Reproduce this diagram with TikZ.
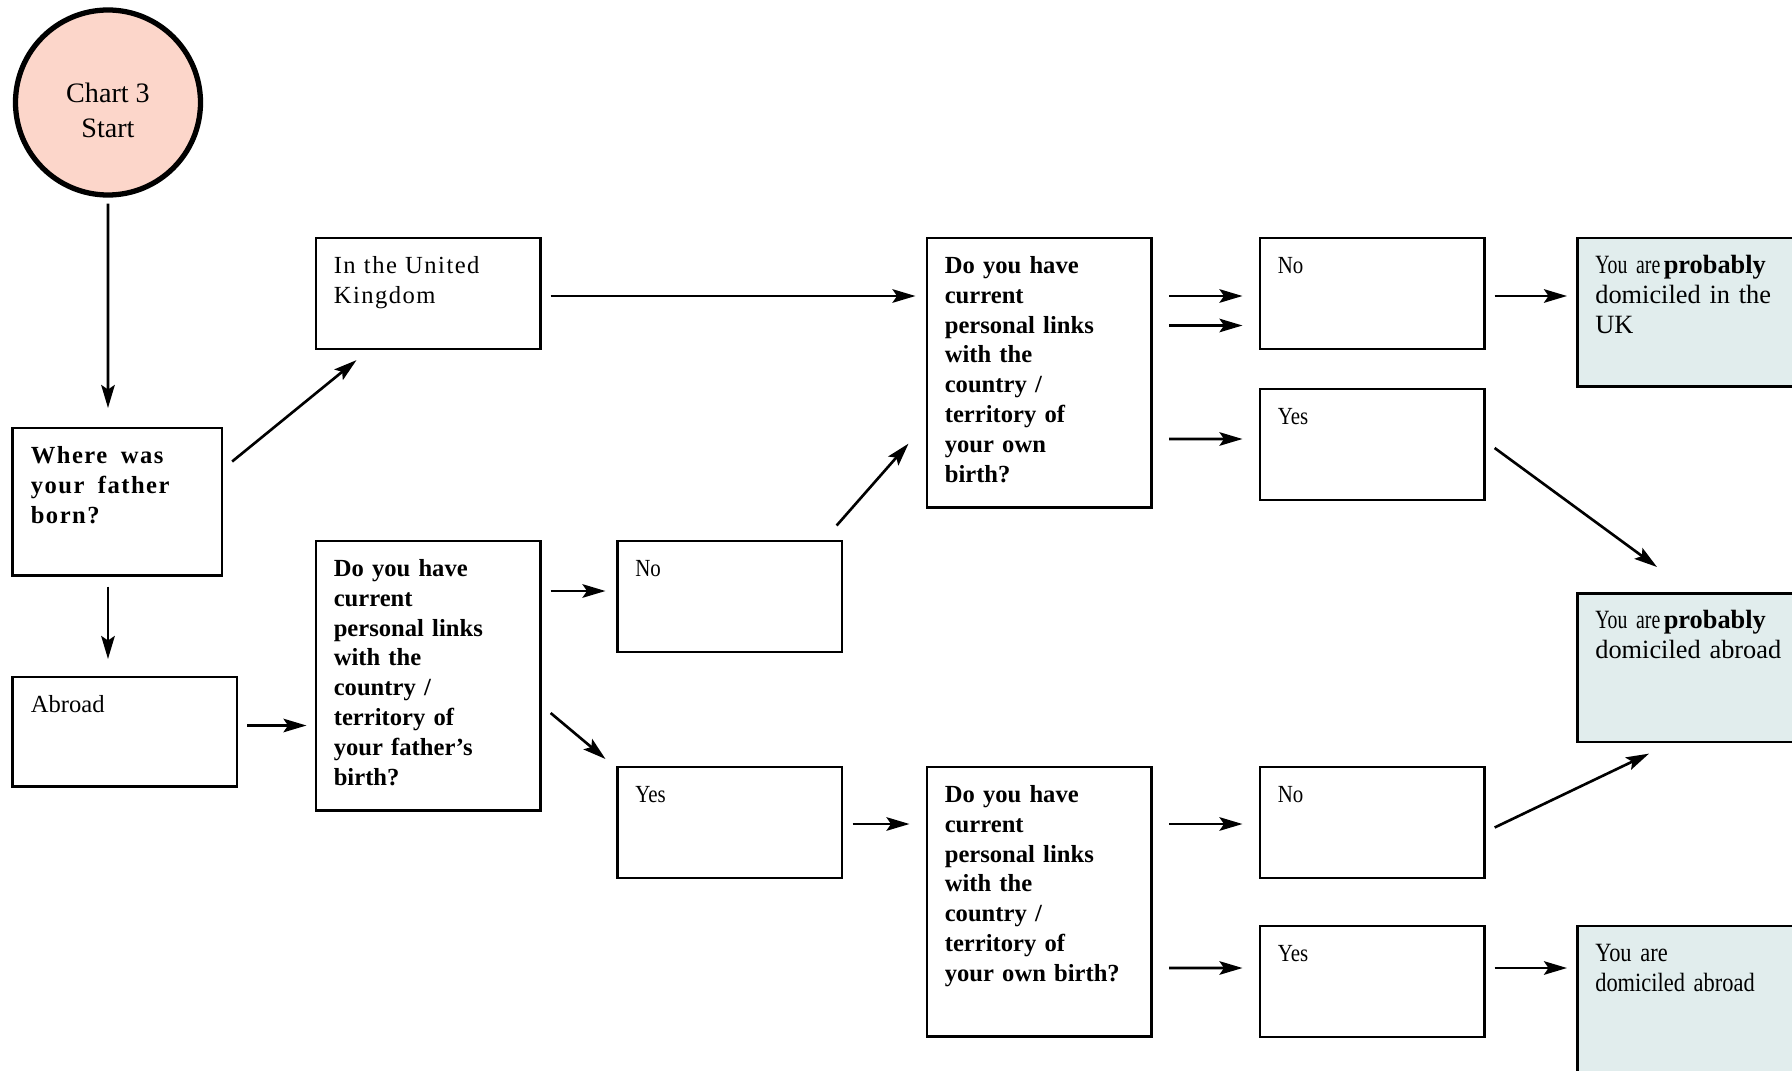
\documentclass[tikz,border=0pt]{standalone}
\usepackage{fontspec}
\setmainfont{Liberation Serif}
\newfontfamily\spacedfont[LetterSpace=6]{Liberation Serif}
\newfontfamily\narrowfont[FakeStretch=0.85]{Liberation Serif}
\newfontfamily\tightfont[FakeStretch=0.75]{Liberation Serif}
\usetikzlibrary{arrows.meta}
\definecolor{startpink}{RGB}{252,214,202}
\definecolor{answerblue}{RGB}{225,237,237}

\begin{document}
\begin{tikzpicture}[>={Stealth[length=0.46cm,width=0.27cm,inset=0.09cm]}]
\tikzstyle box=[draw, line width=1.5pt, anchor=north west, align=left, inner xsep=0.36cm, inner ysep=0.25cm, text width=3.77cm, text height=0.46cm, text depth=1.26cm, font=\fontsize{14}{17}\selectfont]
\tikzstyle question=[box, text depth=4.43cm, font=\fontsize{14}{17}\selectfont\bfseries]
\tikzstyle answer=[box, fill=answerblue, text width=4.28cm, text depth=2.01cm, font=\fontsize{15}{17}\selectfont]
\tikzstyle link=[line width=1.5pt, ->]

\useasboundingbox (0,0) rectangle (35.84,-21.42);
\clip (0,0) rectangle (35.84,-21.42);

\node[draw, circle, line width=3pt, fill=startpink, minimum size=3.7cm, align=center, text height=1.42cm, font=\fontsize{16}{20}\selectfont] (start) at (2.16,-2.05) {Chart 3\\Start};

\node[box, text width=3.46cm, text depth=1.99cm] (where) at (0.23,-8.53) {\spacedfont\bfseries Where\hspace{3pt} was\\your\hspace{3pt} father\\born?};
\node[box, text width=3.76cm, text depth=1.23cm] (abroad) at (0.23,-13.51) {Abroad};
\node[box] (uk) at (6.29,-4.73) {\spacedfont In the United\\Kingdom};
\node[question] (fq) at (6.29,-10.79) {Do you have\\current\\personal links\\with the\\country /\\territory of\\your father's\\birth?};
\node[box] (no1) at (12.32,-10.79) {\narrowfont No};
\node[box] (yes1) at (12.32,-15.31) {\narrowfont Yes};
\node[question] (oq1) at (18.51,-4.73) {Do you have\\current\\personal links\\with the\\country /\\territory of\\your own\\birth?};
\node[question] (oq2) at (18.51,-15.31) {Do you have\\current\\personal links\\with the\\country /\\territory of\\your own birth?};
\node[box] (no2) at (25.17,-4.73) {\narrowfont No};
\node[box] (yes2) at (25.17,-7.75) {\narrowfont Yes};
\node[box] (no3) at (25.17,-15.31) {\narrowfont No};
\node[box] (yes3) at (25.17,-18.49) {\narrowfont Yes};
\node[answer] (resuk) at (31.52,-4.73) {{\tightfont You are}\hspace{2pt}\textbf{probably}\\domiciled in the\\UK};
\node[answer] (resprob) at (31.52,-11.84) {{\tightfont You are}\hspace{2pt}\textbf{probably}\\domiciled abroad};
\node[answer, text depth=2.6cm] (resabr) at (31.52,-18.49) {\narrowfont You are\\domiciled abroad};

\draw[link] ([yshift=-0.12cm]start.south) -- ([xshift=1.93cm,yshift=0.37cm]where.north west);
\draw[link] ([xshift=1.93cm,yshift=-0.20cm]where.south west) -- ([xshift=1.93cm,yshift=0.33cm]abroad.north west);
\draw[link] ([xshift=0.18cm,yshift=-0.70cm]where.north east) -- ([xshift=0.84cm,yshift=-0.20cm]uk.south west);
\draw[link] ([xshift=0.18cm,yshift=-1.00cm]abroad.north east) -- ([xshift=-0.16cm,yshift=-3.72cm]fq.north west);
\draw[link] ([xshift=0.18cm,yshift=-1.19cm]uk.north east) -- ([xshift=-0.20cm,yshift=-1.19cm]oq1.north west);
\draw[link] ([xshift=0.18cm,yshift=-1.03cm]fq.north east) -- ([xshift=-0.21cm,yshift=-1.03cm]no1.north west);
\draw[link] ([xshift=0.18cm,yshift=-3.47cm]fq.north east) -- ([xshift=-0.21cm,yshift=0.13cm]yes1.north west);
\draw[link] ([xshift=-0.13cm,yshift=0.28cm]no1.north east) -- ([xshift=-0.34cm,yshift=1.30cm]oq1.south west);
\draw[link] ([xshift=0.19cm,yshift=-1.17cm]yes1.north east) -- ([xshift=-0.32cm,yshift=-1.17cm]oq2.north west);

\foreach \from/\to/\a/\b in {oq1/no2/-1.19/-1.19, oq1/no2/-1.78/-1.78, oq1/yes2/-4.05/-1.03, oq2/no3/-1.17/-1.17, oq2/yes3/-4.05/-0.87}
  \draw[link] ([xshift=0.33cm,yshift=\a cm]\from.north east) -- ([xshift=-0.32cm,yshift=\b cm]\to.north west);
\foreach \from/\to/\a in {no2/resuk/-1.19, yes3/resabr/-0.87}
  \draw[link] ([xshift=0.18cm,yshift=\a cm]\from.north east) -- ([xshift=-0.18cm,yshift=\a cm]\to.north west);

\draw[link] ([xshift=0.18cm,yshift=-1.21cm]yes2.north east) -- ([xshift=1.62cm,yshift=0.50cm]resprob.north west);
\draw[link] ([xshift=0.18cm,yshift=-1.24cm]no3.north east) -- ([xshift=1.46cm,yshift=-0.21cm]resprob.south west);
\end{tikzpicture}
\end{document}
